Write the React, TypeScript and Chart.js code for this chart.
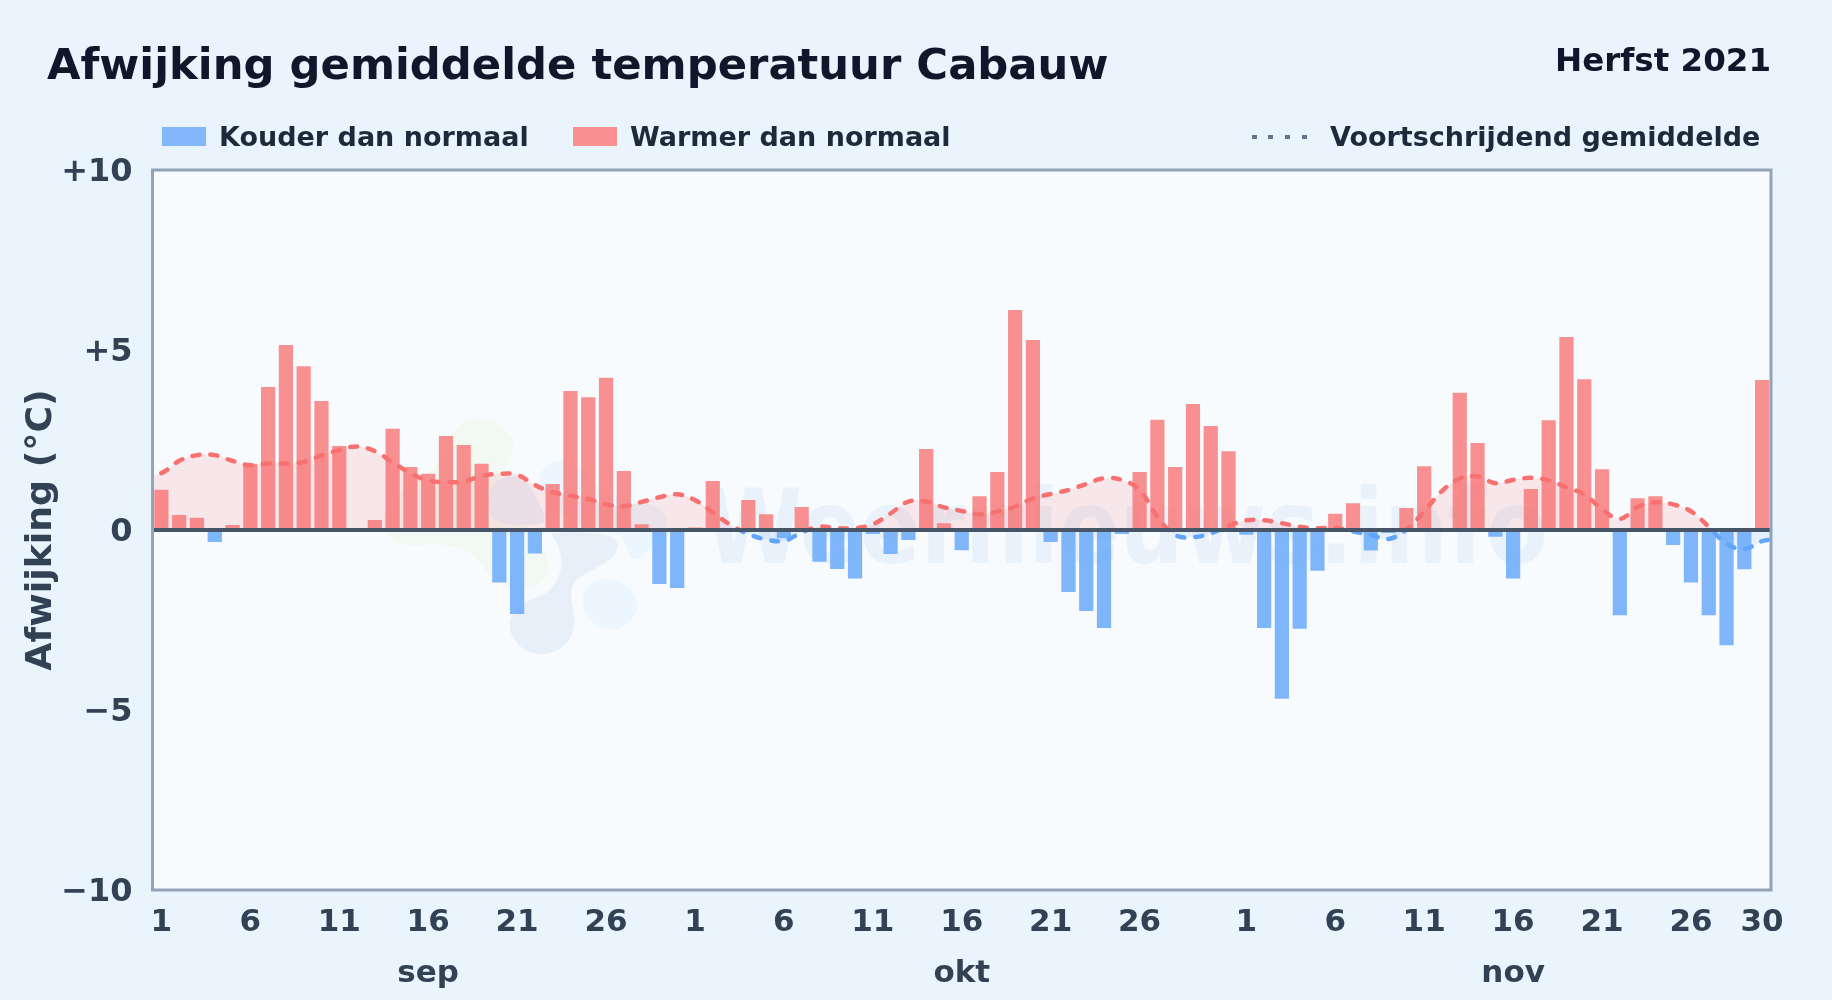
import React, { useEffect, useRef } from "react";
import { Chart, registerables } from "chart.js";

Chart.register(...registerables);

const monthLengths = [30, 31, 30];
const monthNames = ["sep", "okt", "nov"];
const shownDays = [1, 6, 11, 16, 21, 26];
const lastDayLabel = 30;

const septemberDeviation = [1.12, 0.42, 0.34, -0.33, 0.14, 1.84, 3.97, 5.14, 4.55, 3.58, 2.33, 0, 0.28, 2.81, 1.75, 1.56, 2.61, 2.36, 1.84, -1.46, -2.33, -0.65, 1.28, 3.86, 3.69, 4.23, 1.64, 0.16, -1.5, -1.61];
const octoberDeviation = [0.07, 1.36, 0, 0.83, 0.44, -0.23, 0.64, -0.88, -1.08, -1.35, -0.11, -0.67, -0.28, 2.25, 0.19, -0.56, 0.94, 1.61, 6.11, 5.28, -0.33, -1.72, -2.25, -2.72, -0.11, 1.61, 3.06, 1.75, 3.5, 2.89, 2.19];
const novemberDeviation = [-0.13, -2.72, -4.69, -2.74, -1.13, 0.45, 0.74, -0.57, -0.08, 0.61, 1.77, 0, 3.81, 2.42, -0.19, -1.35, 1.14, 3.05, 5.36, 4.19, 1.69, -2.37, 0.88, 0.94, -0.42, -1.46, -2.37, -3.2, -1.09, 4.17];

const movingAverage = [1.58, 1.92, 2.08, 2.08, 1.92, 1.8, 1.85, 1.85, 1.89, 2.07, 2.22, 2.32, 2.19, 1.88, 1.58, 1.38, 1.33, 1.35, 1.5, 1.56, 1.53, 1.25, 1.05, 0.95, 0.86, 0.71, 0.66, 0.78, 0.91, 0.99,
  0.83, 0.49, 0.14, -0.11, -0.26, -0.3, -0.07, 0.09, 0.05, 0.05, 0.16, 0.46, 0.79, 0.79, 0.63, 0.53, 0.44, 0.51, 0.65, 0.88, 1.0, 1.11, 1.28, 1.44, 1.39, 1.11, 0.37, -0.14, -0.2, -0.09, 0.11,
  0.27, 0.27, 0.19, 0.09, 0.05, 0.06, -0.04, -0.14, -0.25, 0.01, 0.52, 1.08, 1.43, 1.49, 1.3, 1.39, 1.45, 1.38, 1.18, 0.99, 0.58, 0.31, 0.64, 0.77, 0.71, 0.52, 0.09, -0.38, -0.53, -0.31];
const averageBeforeStart = 1.5;
const averageAfterEnd = -0.27;

const yTicks = [10, 5, 0, -5, -10];

const deviation = [...septemberDeviation, ...octoberDeviation, ...novemberDeviation];
const dayLabels: string[] = [];
const monthOfIndex: number[] = [];
monthLengths.forEach((len, m) => {
  for (let d = 1; d <= len; d++) {
    dayLabels.push(String(d));
    monthOfIndex.push(m);
  }
});
const averagePoints = [averageBeforeStart, ...movingAverage, averageAfterEnd].map((y, i) => ({ x: i - 1, y }));

const FONT = "'DejaVu Sans', sans-serif";
const TICK = "#334155";

const fmtY = (v: number) => (v > 0 ? "+" + v : v < 0 ? "\u2212" + Math.abs(v) : "0");

const tickLabel = (index: number) => {
  const day = Number(dayLabels[index]);
  const month = monthOfIndex[index];
  const isLast = index === dayLabels.length - 1;
  if (!shownDays.includes(day) && !(isLast && day === lastDayLabel)) return "";
  return day === 16 ? [String(day), monthNames[month]] : String(day);
};

// Faint logo behind the plot: outlines of the watermark, page pixels.
const logoOrigin = [360, 390];
const logoScale = 1 / 3;
const logoShapes: { color: string; pts: number[][] }[] = [
  { color: "#f2f9f3", pts: [[265, 120], [370, 70], [475, 150], [440, 225], [400, 300], [500, 405], [580, 520], [540, 590], [450, 605], [390, 560], [340, 490], [260, 460], [130, 470], [80, 440], [60, 370], [130, 300], [240, 230]] },
  { color: "#ebf6fe", pts: [[530, 250], [590, 205], [660, 220], [720, 300], [810, 335], [900, 345], [930, 400], [880, 470], [820, 520], [800, 470], [780, 430], [640, 400], [560, 330]] },
  { color: "#e7f0f9", pts: [[385, 280], [470, 250], [520, 300], [555, 380], [555, 405], [385, 405]] },
  { color: "#e7f0f9", pts: [[560, 425], [770, 430], [775, 490], [720, 530], [640, 570], [630, 620], [650, 700], [620, 770], [545, 800], [470, 770], [440, 700], [480, 640], [570, 610], [612, 530], [590, 450]] },
  { color: "#ebf6fe", pts: [[660, 610], [720, 560], [800, 580], [842, 650], [800, 710], [740, 722], [680, 690]] },
];

const backdrop = {
  id: "backdrop",
  beforeDatasetsDraw(chart: any) {
    const { ctx, chartArea: a } = chart;
    ctx.save();
    ctx.fillStyle = "#f7fbfe";
    ctx.fillRect(a.left, a.top, a.right - a.left, a.bottom - a.top);
    ctx.beginPath();
    ctx.rect(a.left, a.top, a.right - a.left, a.bottom - a.top);
    ctx.clip();
    logoShapes.forEach(({ color, pts }) => {
      const p = pts.map(([x, y]) => [logoOrigin[0] + x * logoScale, logoOrigin[1] + y * logoScale]);
      const n = p.length;
      ctx.fillStyle = color;
      ctx.beginPath();
      ctx.moveTo((p[n - 1][0] + p[0][0]) / 2, (p[n - 1][1] + p[0][1]) / 2);
      p.forEach((q, i) => {
        const r = p[(i + 1) % n];
        ctx.quadraticCurveTo(q[0], q[1], (q[0] + r[0]) / 2, (q[1] + r[1]) / 2);
      });
      ctx.closePath();
      ctx.fill();
    });
    ctx.fillStyle = "#e9f2fb";
    ctx.font = `bold 103px ${FONT}`;
    ctx.textAlign = "left";
    ctx.textBaseline = "alphabetic";
    ctx.fillText("Weernieuws.info", 704, 563, 844);
    ctx.restore();
  },
};

const frame = {
  id: "frame",
  afterDatasetsDraw(chart: any) {
    const { ctx, chartArea: a, scales } = chart;
    const y0 = scales.y.getPixelForValue(0);
    ctx.save();
    ctx.strokeStyle = "#475569";
    ctx.lineWidth = 4;
    ctx.beginPath();
    ctx.moveTo(a.left, y0);
    ctx.lineTo(a.right, y0);
    ctx.stroke();
    ctx.strokeStyle = "#94a3b8";
    ctx.lineWidth = 3;
    ctx.strokeRect(a.left, a.top, a.right - a.left, a.bottom - a.top);
    ctx.restore();
  },
};

export default function App() {
  const ref = useRef<HTMLCanvasElement>(null);
  useEffect(() => {
    const chart = new Chart(ref.current as HTMLCanvasElement, {
      type: "bar",
      data: {
        labels: dayLabels,
        datasets: [
          {
            type: "line",
            label: "Voortschrijdend gemiddelde",
            data: averagePoints,
            xAxisID: "xLine",
            order: 0,
            tension: 0.4,
            borderWidth: 4.5,
            borderDash: [7, 11],
            borderCapStyle: "round",
            pointRadius: 0,
            fill: { target: { value: 0 }, above: "rgba(248,113,113,0.14)", below: "rgba(96,165,250,0.12)" },
            borderColor: (c: any) => {
              const { chart: ch } = c;
              if (!ch.chartArea) return "#f87171";
              const { top, bottom } = ch.chartArea;
              const g = ch.ctx.createLinearGradient(0, top, 0, bottom);
              const s = (ch.scales.y.getPixelForValue(0) - top) / (bottom - top);
              g.addColorStop(0, "#f87171");
              g.addColorStop(s, "#f87171");
              g.addColorStop(s, "#60a5fa");
              g.addColorStop(1, "#60a5fa");
              return g;
            },
          },
          {
            label: "Kouder dan normaal",
            data: deviation.map((v) => (v < 0 ? v : null)),
            xAxisID: "x",
            backgroundColor: "rgba(96,165,250,0.8)",
            order: 1,
          },
          {
            label: "Warmer dan normaal",
            data: deviation.map((v) => (v >= 0 ? v : null)),
            xAxisID: "x",
            backgroundColor: "rgba(248,113,113,0.78)",
            order: 1,
          },
        ] as any,
      },
      options: {
        responsive: false,
        animation: false,
        layout: { padding: { top: 170, right: 61, left: 0, bottom: 0 } },
        datasets: { bar: { grouped: false, barPercentage: 0.8, categoryPercentage: 1 } as any },
        plugins: { legend: { display: false }, title: { display: false }, tooltip: { enabled: false } },
        scales: {
          xLine: { type: "linear", axis: "x", display: false, offset: false, min: -0.5, max: dayLabels.length - 0.5 },
          x: {
            type: "category",
            grid: { display: false },
            border: { display: false },
            afterFit: (s: any) => { s.height = 110; },
            ticks: {
              autoSkip: false,
              maxRotation: 0,
              minRotation: 0,
              padding: -1,
              color: TICK,
              font: { family: FONT, weight: "bold", size: 31, lineHeight: 1.66 },
              callback: (_v: any, i: number) => tickLabel(i),
            },
          },
          y: {
            min: -10,
            max: 10,
            afterFit: (s: any) => { s.width = 152.5; },
            afterBuildTicks: (s: any) => { s.ticks = yTicks.map((value) => ({ value })); },
            grid: { color: "#e2e8f0", lineWidth: 2, drawTicks: false },
            border: { display: false },
            title: {
              display: true,
              text: "Afwijking (\u00b0C)",
              color: TICK,
              font: { family: FONT, weight: "bold", size: 36.3 },
              padding: { top: 20, bottom: 0 },
            },
            ticks: {
              padding: 20,
              labelOffset: 3,
              color: TICK,
              font: { family: FONT, weight: "bold", size: 32 },
              callback: (v: any) => fmtY(Number(v)),
            },
          },
        },
      },
      plugins: [backdrop, frame],
    } as any);
    return () => chart.destroy();
  }, []);

  const text = (left: number | null, top: number, size: number, color: string, right?: number): React.CSSProperties => ({
    position: "absolute",
    ...(left !== null ? { left } : {}),
    ...(right !== undefined ? { right } : {}),
    top,
    fontSize: size,
    lineHeight: 1,
    fontWeight: 700,
    color,
    fontFamily: FONT,
    whiteSpace: "nowrap",
  });
  const swatch = (left: number, color: string): React.CSSProperties => ({
    position: "absolute", left, top: 127, width: 44, height: 19, background: color,
  });
  const dot = (left: number): React.CSSProperties => ({
    position: "absolute", left, top: 135, width: 5, height: 4, background: "#64748b",
  });

  return (
    <div style={{ position: "fixed", inset: 0, width: 1832, height: 1000, overflow: "hidden", background: "#e9f4fd" }}>
      <canvas ref={ref} width={1832} height={1000} style={{ position: "absolute", left: 0, top: 0, width: 1832, height: 1000 }} />
      <div style={text(47, 43, 43.3, "#0f172a")}>Afwijking gemiddelde temperatuur Cabauw</div>
      <div style={text(null, 44, 32.5, "#0f172a", 61)}>Herfst 2021</div>
      <div style={swatch(162, "#82b7fb")} />
      <div style={text(219, 123, 27, "#1e293b")}>Kouder dan normaal</div>
      <div style={swatch(573, "#f98f8f")} />
      <div style={text(630, 123, 27, "#1e293b")}>Warmer dan normaal</div>
      <div style={dot(1252)} />
      <div style={dot(1268)} />
      <div style={dot(1285)} />
      <div style={dot(1302)} />
      <div style={text(1330, 123, 27, "#1e293b")}>Voortschrijdend gemiddelde</div>
    </div>
  );
}
